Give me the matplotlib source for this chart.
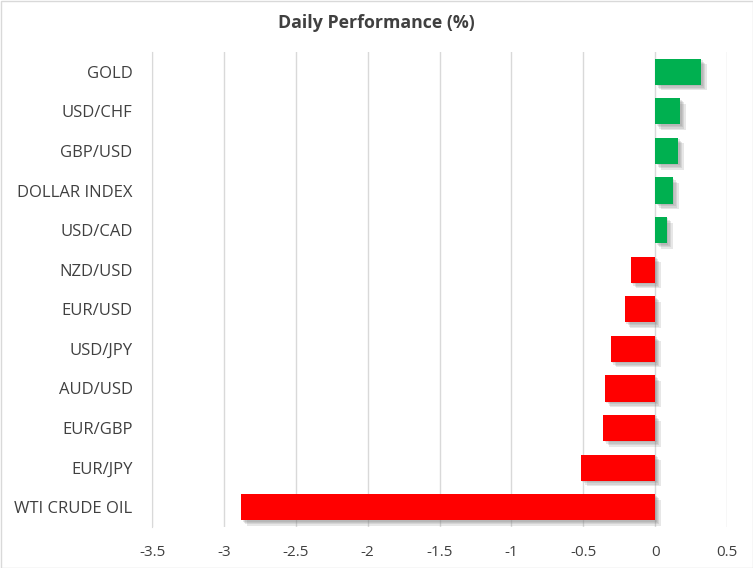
import matplotlib
matplotlib.use('Agg')
import matplotlib.pyplot as plt
import matplotlib.patheffects as pe
import numpy as np

# data, top to bottom
labels = ['GOLD', 'USD/CHF', 'GBP/USD', 'DOLLAR INDEX', 'USD/CAD', 'NZD/USD',
          'EUR/USD', 'USD/JPY', 'AUD/USD', 'EUR/GBP', 'EUR/JPY', 'WTI CRUDE OIL']
values = [0.32, 0.175, 0.16, 0.125, 0.083, -0.17,
          -0.21, -0.31, -0.35, -0.36, -0.515, -2.88]
xticks = [-3.5, -3, -2.5, -2, -1.5, -1, -0.5, 0, 0.5]

plt.rcParams['font.family'] = ['Open Sans', 'DejaVu Sans']
txt = '#404040'

fig = plt.figure(figsize=(7.53, 5.68), dpi=100, facecolor='white')
W, H = 753, 568
ax = fig.add_axes([152 / W, 1 - 527 / H, (727 - 152) / W, (527 - 52) / H])

y = np.arange(len(labels))
cols = ['#00b050' if v >= 0 else '#ff0000' for v in values]
bars = ax.barh(y, values, height=0.66, color=cols, zorder=3)
# soft drop shadow, built from a few faint offset copies
shadow = [pe.SimplePatchShadow(offset=(o, -o), shadow_rgbFace='#7f7f7f', alpha=0.18)
          for o in (1.0, 2.0, 3.0, 4.0)]
for b in bars:
    b.set_path_effects(shadow + [pe.Normal()])

ax.set_ylim(len(labels) - 0.5, -0.5)
ax.set_xlim(-3.5, 0.5)
ax.set_xticks(xticks)
ax.set_xticklabels([f'{t:g}' for t in xticks])
ax.set_yticks(y)
ax.set_yticklabels(labels)
ax.grid(axis='x', color='#d9d9d9', linewidth=1, zorder=0)
for s in ['top', 'right', 'bottom']:
    ax.spines[s].set_visible(False)
ax.spines['left'].set_color('#d9d9d9')
ax.tick_params(axis='both', length=0, colors=txt)
ax.tick_params(axis='x', pad=13, labelsize=11)
ax.tick_params(axis='y', pad=14, labelsize=12)

fig.text(0.5, 1 - 23 / H, 'Daily Performance (%)', ha='center', va='center',
         fontsize=12.8, fontweight='bold', color=txt)

# outer chart border
fig.add_artist(plt.Rectangle((0.5 / W, 0.5 / H), 1 - 1 / W, 1 - 1 / H, transform=fig.transFigure,
                             fill=False, edgecolor='#d9d9d9', linewidth=1))

fig.savefig('out.png', dpi=100)
